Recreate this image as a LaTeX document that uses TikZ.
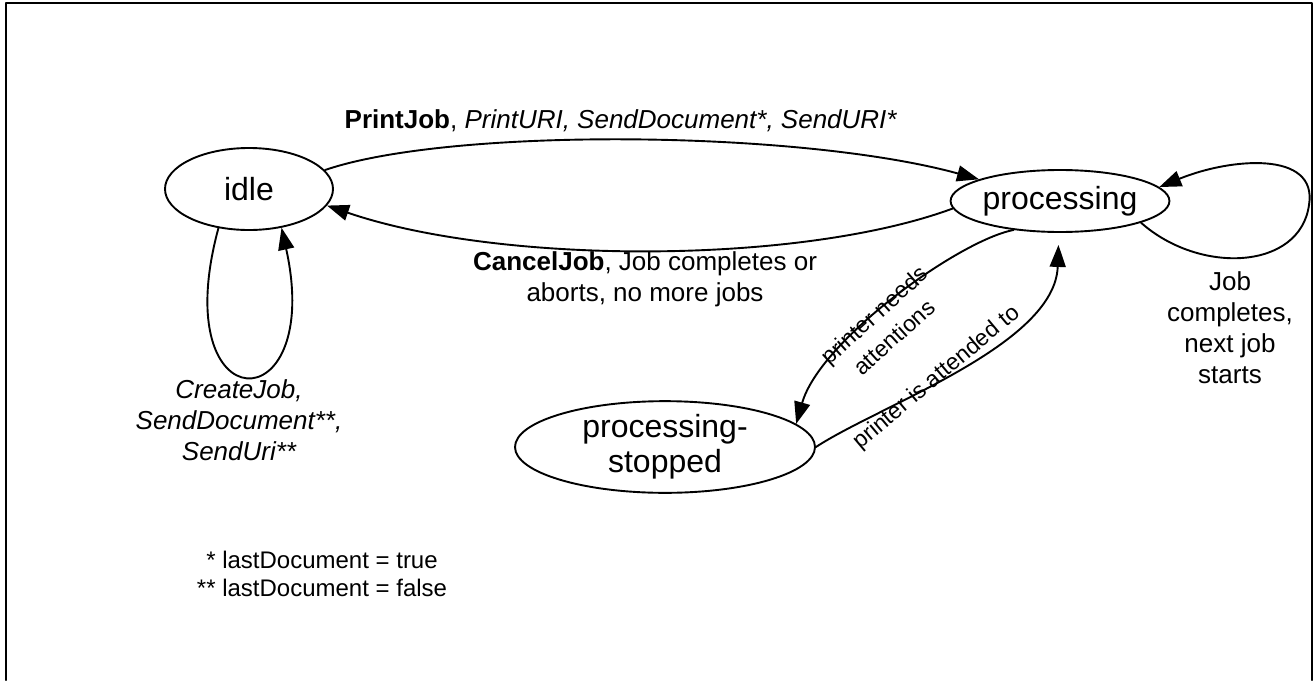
\documentclass[tikz,border=0pt]{standalone}
\usepackage{fontspec}
\setmainfont{Liberation Sans}
\usetikzlibrary{shapes.geometric,arrows.meta}
\newcommand{\statesize}{\fontsize{32}{35}\selectfont}
\newcommand{\labelsize}{\fontsize{26}{31}\selectfont}
\newcommand{\slantsize}{\fontsize{23}{30}\selectfont}
\newcommand{\notesize}{\fontsize{24}{28}\selectfont}
\begin{document}
\begin{tikzpicture}[x=1pt,y=1pt,line join=round,line cap=round,>={Triangle[length=22pt,width=16pt]},line width=1.9pt]
\tikzset{state/.style={ellipse,draw,inner sep=0pt,font=\statesize,align=center},
	lbl/.style={font=\labelsize,align=center,inner sep=0pt}}
\useasboundingbox (0,0) rectangle (1314,-680);
\draw[line width=2pt] (6,-680)--(6,-3)--(1312,-3)--(1312,-680);
% states
\node[state,minimum width=168pt,minimum height=82pt] (idle) at (249,-189) {idle};
\node[state,minimum width=205pt,minimum height=62pt] (proc) at (1060,-201) {processing};
\node[state,minimum width=300pt,minimum height=74pt] (stopped) at (665,-447) {processing-\\stopped};
% transitions
\draw[->] (idle.14) .. controls (450,-127) and (800,-130) .. (proc.165);
\draw[->] (proc.184) .. controls (800,-265) and (500,-265) .. (idle.-12);
\draw[->] (idle.232) .. controls (165,-425) and (325,-425) .. (idle.-50);
\draw[->] (proc.-15) .. controls (1200,-275) and (1300,-270) .. (1309,-205) .. controls (1318,-150) and (1230,-158) .. (proc.8);
\draw[->] (proc.212) .. controls (960,-240) and (820,-340) .. (stopped.10);
\draw[->,shorten >=12pt] (stopped.0) .. controls (880,-405) and (1055,-345) .. (proc.268);
% labels
\node[lbl] (printlbl) at (621,-121) {\textbf{PrintJob}, \textit{PrintURI, SendDocument*, SendURI*}};
\node[lbl] (cancellbl) at (645,-279) {\textbf{CancelJob}, Job completes or\\aborts, no more jobs};
\node[lbl,font=\labelsize\itshape] (createlbl) at (239,-420) {CreateJob,\\SendDocument**,\\SendUri**};
\node[lbl] (nextlbl) at (1230,-328) {Job\\completes,\\next job\\starts};
\node[lbl,font=\slantsize,rotate=42] (needslbl) at (884,-326) {printer needs\\attentions};
\node[lbl,font=\slantsize,rotate=40] (attendlbl) at (937,-378) {printer is attended to};
\node[lbl,font=\notesize] (notelbl) at (322,-574) {* lastDocument = true\\** lastDocument = false};
\end{tikzpicture}
\end{document}
